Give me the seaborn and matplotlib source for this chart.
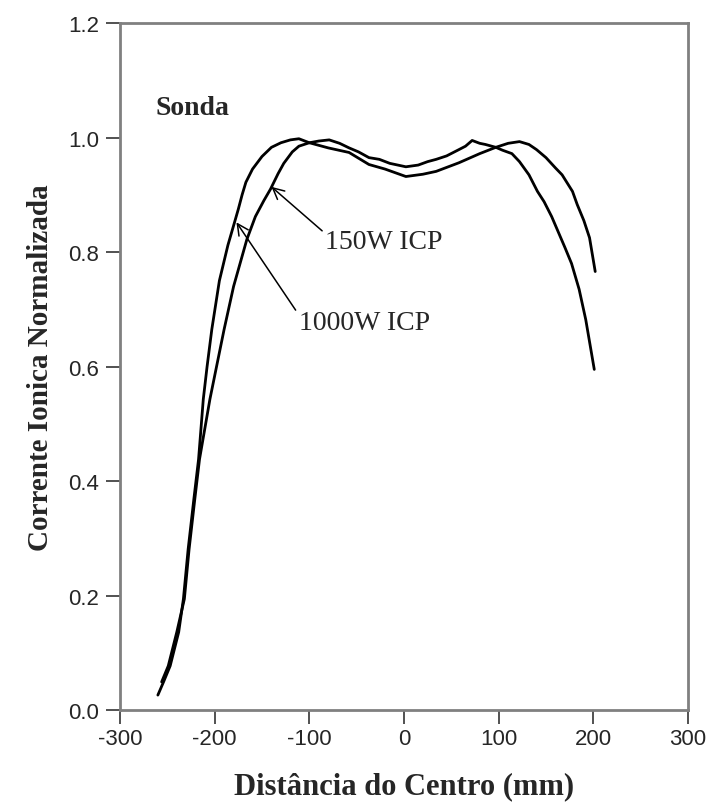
import matplotlib
matplotlib.use("Agg")
import matplotlib.pyplot as plt
import seaborn as sns
import pandas as pd

# 1000W ICP profile (broader curve)
x_1000 = [-260, -254, -247, -238, -233, -228, -222, -217, -212, -208, -203, -195,
          -186, -179, -175, -171, -167, -160, -150, -140, -130, -120, -111, -100,
          -80, -58, -37, -20, 2, 20, 34, 58, 80, 97, 110, 122, 132, 140, 150, 160,
          167, 178, 183, 190, 196, 202]
y_1000 = [0.026, 0.049, 0.077, 0.136, 0.194, 0.281, 0.368, 0.438, 0.543, 0.600, 0.665, 0.750,
          0.812, 0.852, 0.875, 0.900, 0.922, 0.945, 0.967, 0.983, 0.991, 0.996, 0.998, 0.991,
          0.982, 0.974, 0.953, 0.945, 0.932, 0.936, 0.941, 0.956, 0.972, 0.983, 0.990, 0.993,
          0.988, 0.979, 0.965, 0.947, 0.935, 0.906, 0.883, 0.855, 0.825, 0.766]

# 150W ICP profile (narrower curve)
x_150 = [-256, -249, -240, -232, -227, -221, -216, -205, -198, -190, -180, -166,
         -157, -148, -141, -133, -127, -118, -111, -100, -90, -79, -68, -58, -48, -37,
         -26, -15, 2, 15, 25, 34, 45, 58, 65, 72, 80, 86, 97, 104, 114, 122, 132, 141,
         148, 156, 163, 170, 177, 185, 192, 201]
y_150 = [0.049, 0.077, 0.136, 0.194, 0.281, 0.368, 0.438, 0.543, 0.600, 0.665, 0.740, 0.822,
         0.862, 0.890, 0.910, 0.937, 0.955, 0.975, 0.985, 0.991, 0.994, 0.996, 0.990, 0.982,
         0.975, 0.965, 0.962, 0.955, 0.949, 0.952, 0.958, 0.962, 0.968, 0.979, 0.985, 0.995,
         0.990, 0.988, 0.983, 0.978, 0.972, 0.958, 0.935, 0.906, 0.888, 0.862, 0.835, 0.808,
         0.780, 0.735, 0.682, 0.595]

x_ticks = [-300, -200, -100, 0, 100, 200, 300]
y_ticks = [0.0, 0.2, 0.4, 0.6, 0.8, 1.0, 1.2]

df = pd.concat([
    pd.DataFrame({"x": x_1000, "y": y_1000, "serie": "1000W ICP"}),
    pd.DataFrame({"x": x_150, "y": y_150, "serie": "150W ICP"}),
])

sns.set_style("white")
plt.rcParams['font.family'] = ['Liberation Sans', 'DejaVu Sans']
plt.rcParams['axes.unicode_minus'] = False

fig = plt.figure(figsize=(7.1, 8.04), dpi=100)
ax = fig.add_axes([0.169, 0.1157, 0.80, 0.8543])

sns.lineplot(data=df, x="x", y="y", hue="serie", palette=["black", "black"],
             linewidth=2.0, sort=False, estimator=None, legend=False, ax=ax)

ax.set_xlim(-300, 300)
ax.set_ylim(0, 1.2)
ax.set_xticks(x_ticks)
ax.set_yticks(y_ticks)
ax.set_yticklabels([f"{v:.1f}" for v in y_ticks])
ax.tick_params(axis="both", direction="out", length=10, width=1.2, color="#333333",
               labelsize=16, pad=5, bottom=True, left=True)
ax.tick_params(axis="x", pad=3)

for s in ax.spines.values():
    s.set_color("#808080")
    s.set_linewidth(2.0)

serif = ['Liberation Serif', 'DejaVu Serif']
ax.set_xlabel("Distância do Centro (mm)", family=serif, fontweight="bold",
              fontsize=22, labelpad=16)
ax.set_ylabel("Corrente Ionica Normalizada", family=serif, fontweight="bold",
              fontsize=21, labelpad=10)

ax.text(-263, 1.052, "Sonda", family=serif, fontweight="bold", fontsize=20,
        va="center", ha="left")

ax.annotate("150W ICP", xy=(-140, 0.914), xytext=(-83, 0.819), family=serif,
            fontsize=20, va="center", ha="left",
            arrowprops=dict(arrowstyle="->", color="black", lw=1.1, shrinkA=0, shrinkB=0,
                            relpos=(0, 0.8)))
ax.annotate("1000W ICP", xy=(-177, 0.852), xytext=(-111, 0.677), family=serif,
            fontsize=20, va="center", ha="left",
            arrowprops=dict(arrowstyle="->", color="black", lw=1.1, shrinkA=0, shrinkB=0,
                            relpos=(0, 0.8)))

fig.savefig("out.png", dpi=100)
